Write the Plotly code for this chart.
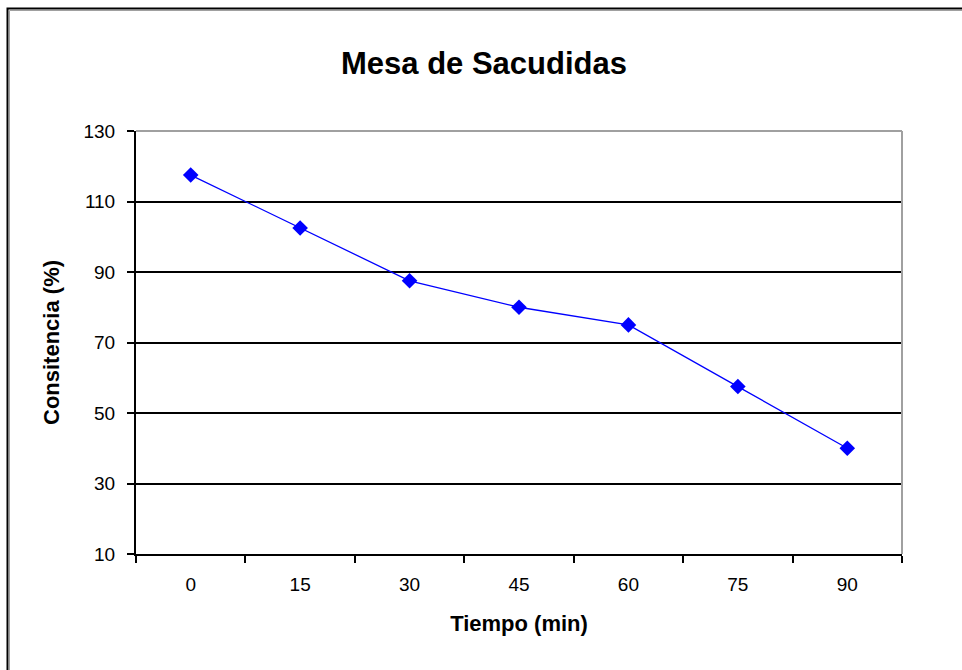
import plotly.graph_objects as go

tiempo = ["0", "15", "30", "45", "60", "75", "90"]
consistencia = [117.5, 102.5, 87.5, 80, 75, 57.5, 40]
y_ticks = [10, 30, 50, 70, 90, 110, 130]

W, H = 962, 670
L, R, T, B = 136, 60, 131, 116
pw, ph = W - L - R, H - T - B

def px_x(p):
    return (p - L) / pw

def px_y(p):
    return (H - B - p) / ph

fig = go.Figure()
fig.add_trace(go.Scatter(
    x=tiempo, y=consistencia, mode="lines+markers",
    line=dict(color="#0000FF", width=1.3),
    marker=dict(symbol="diamond", size=12, color="#0000FF"),
    showlegend=False,
))

font = "Liberation Sans, Arial, sans-serif"
fig.update_layout(
    width=W, height=H,
    margin=dict(l=L, r=R, t=T, b=B),
    paper_bgcolor="white", plot_bgcolor="white",
    title=dict(text="<b>Mesa de Sacudidas</b>", x=484 / W, xanchor="center",
               y=1 - 63 / H, yanchor="middle", yref="container",
               font=dict(family=font, size=31, color="black")),
    font=dict(family=font, size=19, color="black"),
    xaxis=dict(type="category", range=[-0.5, len(tiempo) - 0.5],
               tickson="boundaries", ticks="outside", ticklen=7,
               tickcolor="black", tickwidth=2, showline=True, linecolor="black",
               linewidth=2, showgrid=False, zeroline=False, ticklabelstandoff=12,
               title=dict(text="<b>Tiempo (min)</b>", standoff=22,
                          font=dict(family=font, size=22)),
               tickfont=dict(family=font, size=19)),
    yaxis=dict(range=[10, 130], tickvals=y_ticks, ticks="outside", ticklen=7,
               tickcolor="black", tickwidth=2, showline=True, linecolor="black",
               linewidth=2, showgrid=True, gridcolor="black", gridwidth=2,
               zeroline=False, ticklabelstandoff=8,
               title=dict(text="<b>Consitencia (%)</b>", standoff=18,
                          font=dict(family=font, size=22)),
               tickfont=dict(family=font, size=19)),
    shapes=[
        dict(type="line", xref="x domain", yref="y domain", x0=0, x1=1, y0=1, y1=1,
             line=dict(color="#A0A0A0", width=2), layer="above"),
        dict(type="line", xref="x domain", yref="y domain", x0=1, x1=1, y0=0, y1=1,
             line=dict(color="#A0A0A0", width=2), layer="above"),
        dict(type="rect", xref="paper", yref="paper",
             x0=px_x(7.5), x1=px_x(975), y0=px_y(685), y1=px_y(8.5),
             line=dict(color="black", width=2), layer="above"),
        dict(type="rect", xref="paper", yref="paper",
             x0=px_x(9.5), x1=px_x(975), y0=px_y(685), y1=px_y(10.5),
             line=dict(color="#A0A0A0", width=1), layer="above"),
    ],
)

fig.write_html("out.html", config={"displayModeBar": False},
               post_script="document.body.style.margin='0';")
